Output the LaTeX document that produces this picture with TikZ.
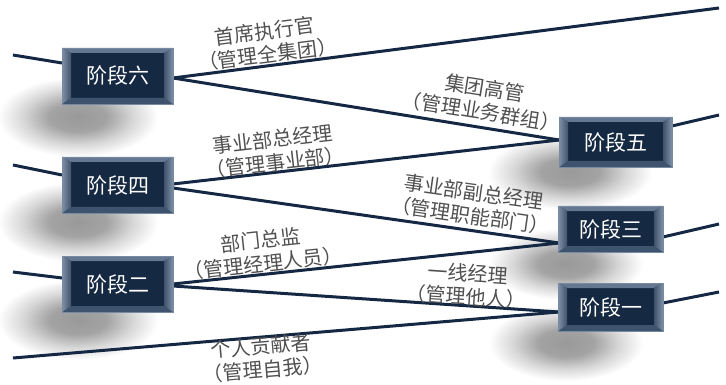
\documentclass[tikz,border=0pt]{standalone}
\usepackage{fontspec}
\newfontfamily\cjk{Noto Sans CJK SC}
\usetikzlibrary{calc}
\definecolor{navy}{RGB}{22,41,66}
\definecolor{linecol}{RGB}{20,40,68}
\definecolor{labelgray}{RGB}{80,80,80}
\definecolor{bevlight}{RGB}{125,145,168}
\definecolor{bevtop}{RGB}{100,120,146}
\definecolor{bevbot}{RGB}{62,84,110}
\definecolor{edgecol}{RGB}{120,138,160}
\pgfdeclareradialshading{softshadow}{\pgfpoint{0bp}{0bp}}{color(0bp)=(black!40); color(9bp)=(black!36); color(17bp)=(black!16); color(25bp)=(white); color(50bp)=(white)}
\newcommand\stagefont{\cjk\fontsize{21}{24}\selectfont}
\newcommand\lblfont{\cjk\fontsize{20}{23.5}\selectfont}
\tikzset{
  stagebox/.style={rectangle, draw=edgecol, line width=0.5pt, fill=navy, text=white,
    font=\stagefont, inner sep=0pt,
    path picture={
      \fill[bevtop] (path picture bounding box.north west) -- (path picture bounding box.north east)
        -- ($(path picture bounding box.north east)+(-9pt,-5pt)$)
        -- ($(path picture bounding box.north west)+(9pt,-5pt)$) -- cycle;
      \fill[bevbot] (path picture bounding box.south west) -- (path picture bounding box.south east)
        -- ($(path picture bounding box.south east)+(-9pt,6pt)$)
        -- ($(path picture bounding box.south west)+(9pt,6pt)$) -- cycle;
      \shade[left color=bevlight, right color=navy!60!bevlight]
        (path picture bounding box.north west) -- ($(path picture bounding box.north west)+(9pt,-5pt)$)
        -- ($(path picture bounding box.south west)+(9pt,6pt)$) -- (path picture bounding box.south west) -- cycle;
      \shade[left color=navy!60!bevlight, right color=bevlight]
        (path picture bounding box.north east) -- ($(path picture bounding box.north east)+(-9pt,-5pt)$)
        -- ($(path picture bounding box.south east)+(-9pt,6pt)$) -- (path picture bounding box.south east) -- cycle;
    }},
  conn/.style={draw=linecol, line width=3pt},
  lbl/.style={text=labelgray, font=\lblfont, align=center, inner sep=0pt},
}
\begin{document}
\begin{tikzpicture}[x=1pt,y=-1pt]
\useasboundingbox (0,0) rectangle (726,385);
% shadows
\foreach \cx/\cy/\ra/\rb in {78/117/80/40, 78/222/80/40, 78/320/80/40, 570/172/82/38, 566/264/77/36, 566/343/77/38}
  \shade[shading=softshadow] (\cx,\cy) ellipse [x radius=\ra, y radius=\rb];

% attachment points and free ends
\coordinate (e6) at (13,55);  \coordinate (e4) at (13,165);
\coordinate (e2) at (13,272); \coordinate (e0) at (13,358);
\coordinate (r6) at (719,8);  \coordinate (r5) at (719,115);
\coordinate (r3) at (719,224); \coordinate (r1) at (719,292);
\coordinate (a6L) at (62,63);  \coordinate (a6R) at (173,78);
\coordinate (a4L) at (62,175); \coordinate (a4R1) at (173,184); \coordinate (a4R2) at (173,188);
\coordinate (a2L) at (62,278); \coordinate (a2R1) at (173,284); \coordinate (a2R2) at (173,286);
\coordinate (a5L) at (559,140); \coordinate (a5R) at (672,126);
\coordinate (a3L) at (559,243); \coordinate (a3R) at (663,237);
\coordinate (a1L) at (559,312); \coordinate (a1R) at (663,303);

% connectors
\draw[conn] (e6) -- (a6L);
\draw[conn] (a6R) -- (r6);
\draw[conn] (a6R) -- (a5L);
\draw[conn] (a5R) -- (r5);
\draw[conn] (e4) -- (a4L);
\draw[conn] (a4R1) -- (a5L);
\draw[conn] (a4R2) -- (a3L);
\draw[conn] (a3R) -- (r3);
\draw[conn] (e2) -- (a2L);
\draw[conn] (a2R1) -- (a3L);
\draw[conn] (a2R2) -- (a1L);
\draw[conn] (a1R) -- (r1);
\draw[conn] (e0) -- (a1L);

% stage boxes
\node[stagebox, minimum width=111pt, minimum height=56pt] (s6) at (117.5,76) {阶段六};
\node[stagebox, minimum width=111pt, minimum height=56pt] (s4) at (117.5,185) {阶段四};
\node[stagebox, minimum width=111pt, minimum height=56pt] (s2) at (117.5,284) {阶段二};
\node[stagebox, minimum width=113pt, minimum height=50pt] (s5) at (615.5,142) {阶段五};
\node[stagebox, minimum width=105pt, minimum height=46pt] (s3) at (610.5,229) {阶段三};
\node[stagebox, minimum width=105pt, minimum height=48pt] (s1) at (610.5,307) {阶段一};

% labels
\node[lbl, rotate=7.3] (l6) at (266,43) {首席执行官\\（管理全集团）};
\node[lbl, rotate=-9.1] (l5) at (483,100) {集团高管\\（管理业务群组）};
\node[lbl, rotate=6.5] (l4) at (274,151) {事业部总经理\\（管理事业部）};
\node[lbl, rotate=-8.1] (l3) at (472,204) {事业部副总经理\\（管理职能部门）};
\node[lbl, rotate=6.1] (l2) at (262,252) {部门总监\\（管理经理人员）};
\node[lbl, rotate=-3.9] (l1) at (467,285) {一线经理\\（管理他人）};
\node[lbl, rotate=4.8] (l0) at (262,358) {个人贡献者\\（管理自我）};
\end{tikzpicture}
\end{document}
